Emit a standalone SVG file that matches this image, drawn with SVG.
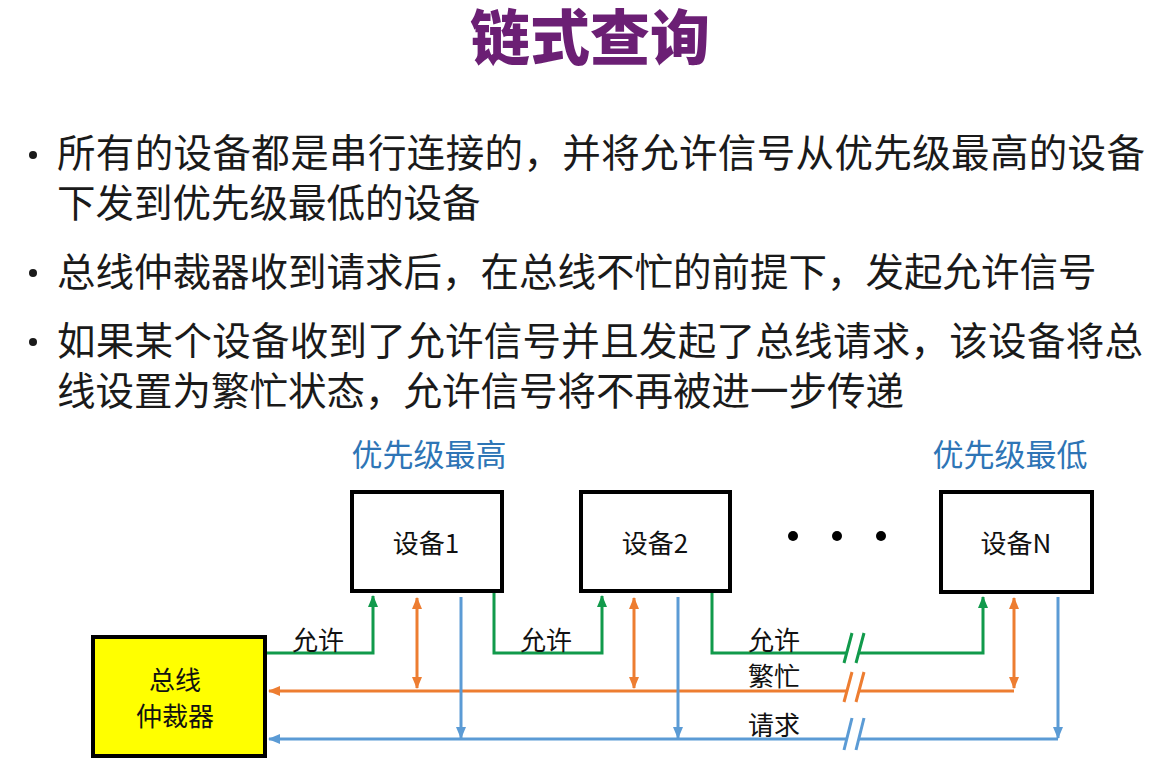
<svg xmlns="http://www.w3.org/2000/svg" width="1163" height="762" viewBox="0 0 1163 762">
<style>
text{font-family:"Noto Sans CJK SC","Noto Sans",sans-serif;}
.title{font-size:60px;font-weight:900;fill:#6b1f74;text-anchor:middle;}
.body{font-size:38.5px;fill:#1a1a1a;}
.prio{font-size:31px;fill:#2e75b6;text-anchor:middle;}
.dev{font-size:26px;fill:#111;text-anchor:middle;}
.lbl{font-size:26px;fill:#111;}
.box{fill:#fff;stroke:#000;stroke-width:4;}
.arb{fill:#ffff00;stroke:#000;stroke-width:4;}
.g{fill:none;stroke:#119a4b;stroke-width:3;}
.o{fill:none;stroke:#ed7d31;stroke-width:3;}
.b{fill:none;stroke:#5b9bd5;stroke-width:3;}
.dash{fill:none;stroke:#3a9a6a;stroke-width:1.5;stroke-dasharray:5 4;}
</style>
<defs>
<marker id="ag" viewBox="0 0 12 10" refX="11" refY="5" markerWidth="12" markerHeight="10" markerUnits="userSpaceOnUse" orient="auto-start-reverse"><path d="M0,0 L12,5 L0,10 Z" fill="#119a4b"/></marker>
<marker id="ao" viewBox="0 0 12 10" refX="11" refY="5" markerWidth="12" markerHeight="10" markerUnits="userSpaceOnUse" orient="auto-start-reverse"><path d="M0,0 L12,5 L0,10 Z" fill="#ed7d31"/></marker>
<marker id="ab" viewBox="0 0 12 10" refX="11" refY="5" markerWidth="12" markerHeight="10" markerUnits="userSpaceOnUse" orient="auto-start-reverse"><path d="M0,0 L12,5 L0,10 Z" fill="#5b9bd5"/></marker>
</defs>
<rect width="1163" height="762" fill="#fff"/>
<text class="title" x="590" y="60">链式查询</text>
<g id="bullets">
<circle cx="33" cy="155" r="4" fill="#1a1a1a"/>
<circle cx="33" cy="273" r="4" fill="#1a1a1a"/>
<circle cx="33" cy="342" r="4" fill="#1a1a1a"/>
<text class="body" x="57" y="167" textLength="1088" lengthAdjust="spacing">所有的设备都是串行连接的，并将允许信号从优先级最高的设备</text>
<text class="body" x="57" y="217">下发到优先级最低的设备</text>
<text class="body" x="57" y="286">总线仲裁器收到请求后，在总线不忙的前提下，发起允许信号</text>
<text class="body" x="57" y="355" textLength="1086" lengthAdjust="spacing">如果某个设备收到了允许信号并且发起了总线请求，该设备将总</text>
<text class="body" x="57" y="405">线设置为繁忙状态，允许信号将不再被进一步传递</text>
</g>
<text class="prio" x="429" y="466">优先级最高</text>
<text class="prio" x="1010" y="466">优先级最低</text>
<g id="connectors">
<path class="g" d="M267,653 H373 V596" marker-end="url(#ag)"/>
<path class="g" d="M494,593 V653 H602 V596" marker-end="url(#ag)"/>
<path class="g" d="M712,593 V653 H846"/>
<path class="g" d="M858,653 H983 V597" marker-end="url(#ag)"/>
<path class="o" d="M417,598 V688" marker-start="url(#ao)" marker-end="url(#ao)"/>
<path class="o" d="M634,598 V688" marker-start="url(#ao)" marker-end="url(#ao)"/>
<path class="o" d="M1014,598 V688" marker-start="url(#ao)" marker-end="url(#ao)"/>
<path class="o" d="M1014,691 H858"/>
<path class="o" d="M846,691 H269" marker-end="url(#ao)"/>
<path class="b" d="M461,597 V738" marker-end="url(#ab)"/>
<path class="b" d="M678,597 V738" marker-end="url(#ab)"/>
<path class="b" d="M1058,597 V738" marker-end="url(#ab)"/>
<path class="b" d="M1058,739 H858"/>
<path class="b" d="M846,739 H269" marker-end="url(#ab)"/>
<path class="g" d="M844,663 L852,633 M856,663 L864,633"/>
<path class="o" d="M844,702 L852,672 M856,702 L864,672"/>
<path class="b" d="M844,750 L852,718 M856,750 L864,718"/>
<path class="dash" d="M373,589 C398,553 455,553 486,588"/>
<path class="dash" d="M602,589 C628,553 686,553 715,588"/>
<text class="lbl" x="292" y="650">允许</text>
<text class="lbl" x="520" y="650">允许</text>
<text class="lbl" x="748" y="650">允许</text>
<text class="lbl" x="748" y="686">繁忙</text>
<text class="lbl" x="748" y="735">请求</text>
</g>
<g id="arbiter">
<rect class="arb" x="93" y="637" width="172" height="119"/>
<text class="dev" x="175" y="690">总线</text>
<text class="dev" x="175" y="726">仲裁器</text>
</g>
<g id="dev1">
<rect class="box" x="352" y="492" width="150" height="99"/>
<text class="dev" x="426" y="553">设备1</text>
</g>
<g id="dev2">
<rect class="box" x="581" y="492" width="149" height="99"/>
<text class="dev" x="655" y="553">设备2</text>
</g>
<g id="dots">
<circle cx="793" cy="536" r="5" fill="#000"/>
<circle cx="837" cy="536" r="5" fill="#000"/>
<circle cx="881" cy="536" r="5" fill="#000"/>
</g>
<g id="devN">
<rect class="box" x="941" y="492" width="151" height="100"/>
<text class="dev" x="1016" y="553">设备N</text>
</g>
</svg>
